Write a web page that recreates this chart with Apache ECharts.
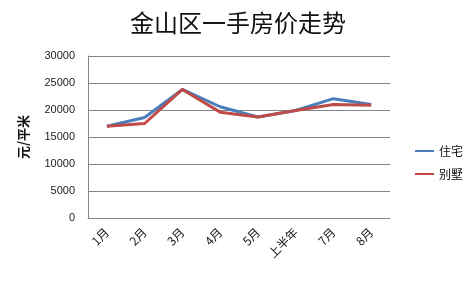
<!DOCTYPE html>
<html><head><meta charset="utf-8">
<script src="https://cdn.jsdelivr.net/npm/echarts@6/dist/echarts.min.js"></script>
<style>html,body{margin:0;padding:0;background:#fff}#c{width:476px;height:283px}</style>
</head><body><div id="c"></div>
<script>
const categories = ['1月','2月','3月','4月','5月','上半年','7月','8月'];
const residential = [17000, 18600, 23800, 20600, 18700, 19900, 22100, 21000];
const villa = [17000, 17500, 23800, 19600, 18700, 19900, 21000, 20900];
const yTicks = [0, 5000, 10000, 15000, 20000, 25000, 30000];

const chart = echarts.init(document.getElementById('c'));
chart.setOption({
  animation: false,
  backgroundColor: '#fff',
  title: {
    text: '金山区一手房价走势', left: 'center', top: 6,
    textStyle: {fontFamily: 'Noto Sans CJK SC', fontSize: 24, fontWeight: 'normal', color: '#111'}
  },
  legend: {
    orient: 'vertical', left: 415, top: 145, padding: 0,
    itemWidth: 19, itemHeight: 2, icon: 'rect', itemGap: 11,
    textStyle: {fontFamily: 'Noto Sans CJK SC', fontSize: 12, color: '#111'},
    data: ['住宅','别墅']
  },
  grid: {left: 88, right: 86, top: 56, bottom: 65},
  xAxis: {
    type: 'category', data: categories, boundaryGap: true,
    axisLine: {lineStyle: {color: '#868686'}},
    axisTick: {show: false},
    axisLabel: {rotate: 45, fontFamily: 'Noto Sans CJK SC', fontSize: 12, color: '#222', margin: 12}
  },
  yAxis: {
    type: 'value', min: yTicks[0], max: yTicks[yTicks.length-1], interval: 5000,
    name: '元/平米', nameLocation: 'middle', nameGap: 58, nameRotate: 90,
    nameTextStyle: {fontFamily: 'Noto Sans CJK SC', fontSize: 13, fontWeight: 'bold', color: '#111'},
    axisLine: {show: true, lineStyle: {color: '#868686'}},
    axisTick: {show: false},
    splitLine: {lineStyle: {color: '#868686'}},
    axisLabel: {fontFamily: 'Liberation Sans', fontSize: 11, color: '#222', margin: 13,
      formatter: v => String(v)}
  },
  series: [
    {name: '住宅', type: 'line', data: residential, symbol: 'none', lineStyle: {width: 3, color: '#4a7ebb'}, itemStyle: {color: '#4a7ebb'}},
    {name: '别墅', type: 'line', data: villa, symbol: 'none', lineStyle: {width: 3, color: '#be4b48'}, itemStyle: {color: '#be4b48'}}
  ]
});
</script></body></html>
